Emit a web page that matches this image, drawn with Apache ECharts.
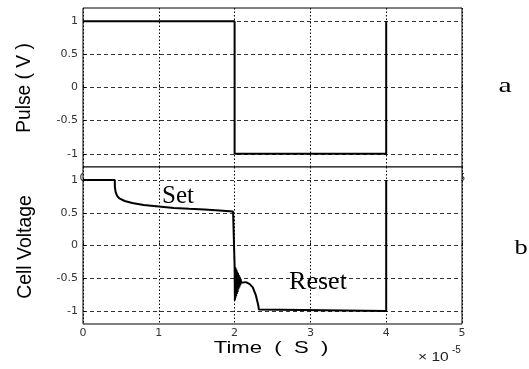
<!DOCTYPE html>
<html><head><meta charset="utf-8">
<script src="https://cdn.jsdelivr.net/npm/echarts@6/dist/echarts.min.js"></script>
<style>html,body{margin:0;padding:0;background:#fff}#c{width:529px;height:369px}</style>
</head><body><div id="c"></div>
<script>
const xTicks = [0, 1, 2, 3, 4, 5];
const yTicks = [-1, -0.5, 0, 0.5, 1];
const pulseT = [0, 2, 2, 4, 4];
const pulseV = [1, 1, -1, -1, 1];
const cellT = [0, 0.42, 0.42, 0.43, 0.45, 0.48, 0.55, 0.65, 0.80, 1.00, 1.20, 1.40, 1.60, 1.80, 1.98, 2.00,
  2.000, 2.004, 2.008, 2.012, 2.016, 2.020, 2.025, 2.030, 2.035, 2.040, 2.045, 2.050, 2.056, 2.062, 2.068, 2.074, 2.080, 2.085, 2.090,
  2.15, 2.20, 2.24, 2.26, 2.28, 2.295, 2.305, 2.315, 2.32, 2.33, 4.00, 4.00];
const cellV = [1.0, 1.0, 0.90, 0.82, 0.76, 0.72, 0.68, 0.65, 0.62, 0.595, 0.575, 0.56, 0.55, 0.535, 0.52, 0.52,
  -0.31, -0.84, -0.33, -0.80, -0.35, -0.77, -0.37, -0.74, -0.40, -0.71, -0.42, -0.67, -0.45, -0.64, -0.48, -0.61, -0.51, -0.57, -0.54,
  -0.56, -0.59, -0.64, -0.70, -0.76, -0.83, -0.88, -0.93, -0.98, -1.0, -1.0, 1.0];

const font = 'Liberation Sans, Arial, sans-serif';
const tickFont = 'DejaVu Sans, sans-serif';
const serif = 'Liberation Serif, Times New Roman, serif';
const L = 83, W = 379;
const grids = [
  {left: L, top: 8, width: W, height: 159},
  {left: L, top: 167, width: W, height: 157, backgroundColor: '#fff'}
];
function xAxis(i, showLabels) {
  return {
    type: 'value', gridIndex: i, min: 0, max: 5, interval: 1,
    axisLine: {show: false},
    axisTick: {show: true, inside: true, length: 3, lineStyle: {color: '#000'}},
    axisLabel: {show: showLabels, fontFamily: tickFont, fontSize: 11, color: '#333', margin: 4},
    splitLine: {show: true, lineStyle: {color: '#000', type: [1.5, 2], width: 1}}
  };
}
function yAxis(i) {
  return {
    type: 'value', gridIndex: i, min: -1.2, max: 1.2,
    axisLine: {show: false},
    axisTick: {show: true, inside: true, length: 3, lineStyle: {color: '#000'}, customValues: yTicks},
    axisLabel: {fontFamily: tickFont, fontSize: 11, color: '#333', margin: 5, customValues: yTicks},
    splitLine: {show: true, lineStyle: {color: '#333', type: [4, 3], width: 1}}
  };
}
function txt(o, text, fnt, extra) {
  return Object.assign({type: 'text', z: 100, style: Object.assign({text: text, font: fnt, fill: '#000', textAlign: 'center', textVerticalAlign: 'middle'}, extra || {})}, o);
}
const chart = echarts.init(document.getElementById('c'), null, {renderer: 'canvas'});
chart.setOption({
  backgroundColor: '#fff',
  animation: false,
  grid: grids.map(g => Object.assign({show: true, borderColor: '#000', borderWidth: 1}, g)),
  xAxis: [xAxis(0, false), xAxis(1, true)],
  yAxis: [yAxis(0), yAxis(1)],
  series: [
    {type: 'line', xAxisIndex: 0, yAxisIndex: 0, data: pulseT.map((t, k) => [t, pulseV[k]]),
      symbol: 'none', lineStyle: {color: '#000', width: 2}, z: 5},
    {type: 'line', xAxisIndex: 1, yAxisIndex: 1, data: cellT.map((t, k) => [t, cellV[k]]),
      symbol: 'none', lineStyle: {color: '#000', width: 2}, z: 5}
  ],
  graphic: {elements: [
    // top panel's hidden x tick labels peeking out from behind the lower panel
    txt({x: 83, y: 178.5, z: -5}, '0', '11px ' + tickFont, {fill: '#333'}),
    txt({x: 462, y: 178, z: -5}, '5', '11px ' + tickFont, {fill: '#333'}),
    txt({x: 25, y: 88, rotation: Math.PI / 2, scaleX: 1.13, scaleY: 1.15}, 'Pulse ( V )', '17px ' + font),
    txt({x: 26, y: 247, rotation: Math.PI / 2, scaleX: 1.14, scaleY: 1.15}, 'Cell Voltage', '17px ' + font),
    txt({x: 271, y: 348, scaleX: 1.3}, 'Time  (  S  )', '17px ' + font),
    txt({x: 418, y: 357, scaleX: 1.2}, '× 10', '13px ' + font, {fill: '#222', textAlign: 'left'}),
    txt({x: 452, y: 350}, '-5', '10px ' + font, {fill: '#222', textAlign: 'left'}),
    txt({x: 505, y: 86, scaleX: 1.35}, 'a', '22px ' + serif),
    txt({x: 521, y: 248, scaleX: 1.2}, 'b', '22px ' + serif),
    txt({x: 178, y: 196}, 'Set', '25px ' + serif),
    txt({x: 318, y: 282}, 'Reset', '26px ' + serif)
  ]}
});
</script></body></html>
